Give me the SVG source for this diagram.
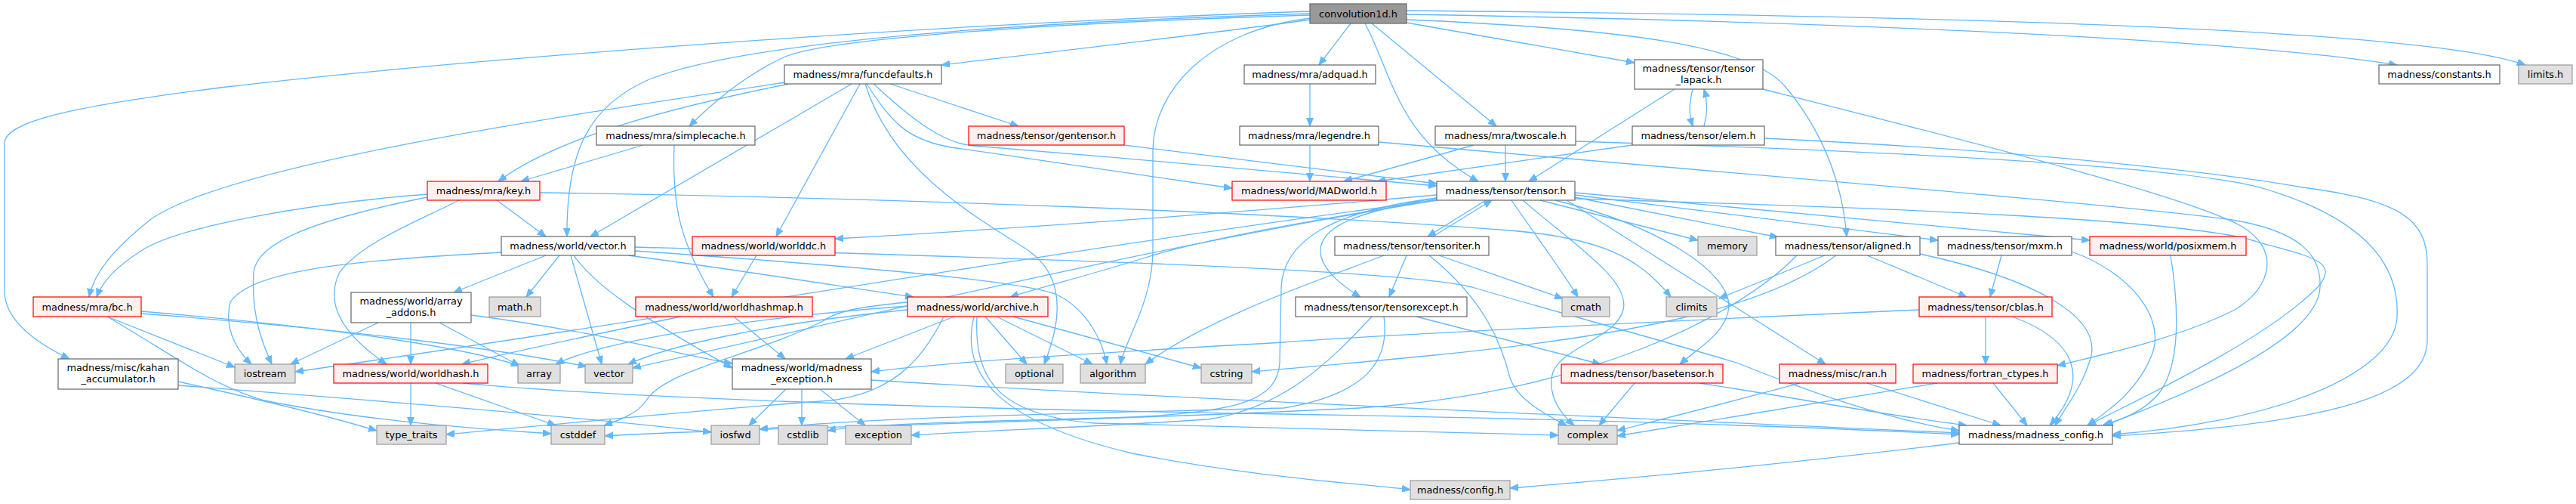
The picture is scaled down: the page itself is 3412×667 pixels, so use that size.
<svg xmlns="http://www.w3.org/2000/svg" width="3412" height="667" viewBox="0 0 3412 667">
<style>
.e{fill:none;stroke:#63B8FF;stroke-width:1.3}
.n rect{stroke-width:1.2}
.w rect{fill:#fff;stroke:#666}
.r rect{fill:#FFF0F0;stroke:#F00}
.g rect{fill:#E0E0E0;stroke:#999}
.root rect{fill:#999;stroke:#666}
text{font-family:"DejaVu Sans",sans-serif;font-size:12.9px;text-anchor:middle;fill:#000}
</style>
<defs>
<marker id="ah" markerUnits="userSpaceOnUse" markerWidth="13" markerHeight="11" refX="11" refY="4.5" orient="auto"><path d="M0,0L11,4.5L0,9z" fill="#63B8FF" stroke="#63B8FF" stroke-width="1"/></marker>
</defs>
<rect width="3412" height="667" fill="#fff"/>
<g id="edges" class="e" marker-end="url(#ah)">
<path d="M1736,26 C1600,45 1400,68 1247,86"/>
<path d="M1789,31 L1747,86"/>
<path d="M1808,31 C1845,100 1850,180 1958,240"/>
<path d="M1817,31 L1982,167"/>
<path d="M1863,30 L2165,83"/>
<path d="M1863,19 C2400,28 2950,50 3175,86"/>
<path d="M1863,14 C2500,20 3200,35 3345,86"/>
<path d="M1863,26 C2150,38 2320,60 2365,115 C2415,175 2440,240 2446,313"/>
<path d="M1736,24 C1600,40 1527,120 1527,200 L1527,330 C1527,400 1490,450 1484,482"/>
<path d="M1736,20 C1400,30 1100,50 1040,75 C985,100 940,140 913,167"/>
<path d="M1736,18 C1400,28 1000,50 860,105 C780,140 750,200 751,313"/>
<path d="M1736,15 C1200,33 600,80 300,115 C100,140 6,160 6,190 L6,385 C6,420 40,450 92,475"/>
<path d="M1040,109 C700,160 300,220 200,290 C150,330 125,360 118,393"/>
<path d="M1045,111 C900,140 740,180 660,240"/>
<path d="M1128,111 L782,313"/>
<path d="M1139,111 L1028,313"/>
<path d="M1179,111 L1349,167"/>
<path d="M1157,111 C1210,160 1250,190 1290,193 C1500,210 1750,232 1903,246"/>
<path d="M1148,111 C1180,160 1200,185 1260,195 C1400,215 1550,238 1632,249"/>
<path d="M1146,111 C1180,220 1280,280 1360,330 C1420,370 1400,440 1383,482"/>
<path d="M852,192 L690,240"/>
<path d="M893,192 C890,270 900,320 945,393"/>
<path d="M1735,111 L1735,167"/>
<path d="M1735,192 L1735,240"/>
<path d="M1826,188 C2300,230 2800,270 2950,290 C3050,305 3075,340 3073,380 C3070,450 2900,520 2788,563"/>
<path d="M1952,192 L1780,240"/>
<path d="M1994,192 L1994,240"/>
<path d="M2087,187 C2500,200 2900,220 3000,250 C3100,280 3180,330 3175,420 C3170,500 3000,560 2798,575"/>
<path d="M2218,118 L2025,240"/>
<path d="M2242,118 C2237,138 2237,150 2242,167"/>
<path d="M2335,118 C2600,185 2900,260 2970,300 C3020,330 3010,380 2960,410 C2880,450 2780,470 2725,484"/>
<path d="M2257,167 C2262,150 2262,135 2257,118"/>
<path d="M2162,192 L1824,240"/>
<path d="M2337,183 C2700,200 2950,230 3050,248 C3180,265 3215,290 3215,350 L3215,450 C3215,520 3100,560 2798,577"/>
<path d="M1489,192 L1903,243"/>
<path d="M658,265 L723,313"/>
<path d="M566,257 C400,270 240,300 190,330 C150,355 135,375 128,393"/>
<path d="M608,265 C560,290 480,320 450,360 C430,400 450,440 512,482"/>
<path d="M566,261 C420,290 340,320 336,360 C332,420 350,460 360,482"/>
<path d="M715,255 C1200,262 1700,282 2000,305 C2120,315 2170,340 2213,393"/>
<path d="M723,338 L601,387"/>
<path d="M741,338 L697,393"/>
<path d="M756,338 L797,482"/>
<path d="M760,338 C790,380 850,420 970,487"/>
<path d="M832,338 C1000,360 1150,385 1210,393"/>
<path d="M841,332 C1100,350 1350,370 1400,390 C1440,410 1460,450 1466,482"/>
<path d="M841,327 C1300,340 1850,355 1950,380 C2050,410 2200,450 2300,480 C2400,520 2500,555 2595,570"/>
<path d="M664,334 C450,345 330,360 305,400 C295,440 320,470 333,482"/>
<path d="M1002,338 L969,393"/>
<path d="M972,419 L1040,475"/>
<path d="M902,419 C800,440 680,465 612,482"/>
<path d="M1903,258 C1600,285 1300,305 1106,316"/>
<path d="M1968,265 L1891,313"/>
<path d="M1898,313 L1976,265"/>
<path d="M1903,262 C1800,280 1740,300 1750,340 C1755,360 1780,380 1802,393"/>
<path d="M1903,264 C1750,290 1600,315 1520,340 C1450,362 1380,380 1338,393"/>
<path d="M2040,265 L2249,318"/>
<path d="M2086,261 L2355,314"/>
<path d="M2086,258 L2567,318"/>
<path d="M2086,255 L2768,318"/>
<path d="M2002,265 C2040,320 2070,360 2090,393"/>
<path d="M2017,265 C2080,320 2160,370 2150,410 C2140,450 2060,460 2055,500 C2052,530 2070,550 2085,563"/>
<path d="M2060,265 C2200,300 2290,360 2290,405 C2288,440 2250,460 2225,482"/>
<path d="M2075,265 L2418,482"/>
<path d="M2086,263 C2500,275 2900,290 2990,320 C3060,340 3100,345 3070,380 C3000,450 2850,520 2765,563"/>
<path d="M1903,265 C1400,330 900,420 391,492"/>
<path d="M1903,265 C1500,330 1100,430 838,487"/>
<path d="M1903,262 C1760,280 1700,320 1697,380 L1695,480 C1692,530 1640,545 1500,552 C1300,558 1150,560 1096,570"/>
<path d="M1863,338 L1840,393"/>
<path d="M1906,338 L2070,395"/>
<path d="M1893,338 C1970,400 1990,460 2000,500 C2010,530 2050,550 2075,563"/>
<path d="M1833,338 C1750,370 1600,420 1517,482"/>
<path d="M1876,419 L2120,482"/>
<path d="M1817,419 C1760,480 1700,540 1600,555 C1450,565 1300,570 1207,576"/>
<path d="M1833,419 C1840,470 1820,520 1700,540 C1400,548 1150,552 1006,568"/>
<path d="M2165,507 L2118,563"/>
<path d="M2251,507 C2400,530 2500,550 2605,563"/>
<path d="M2384,507 C2300,530 2200,555 2142,570"/>
<path d="M2473,507 L2650,563"/>
<path d="M2566,507 C2400,535 2250,560 2142,577"/>
<path d="M2640,507 L2685,563"/>
<path d="M2630,419 L2630,482"/>
<path d="M2665,419 C2750,450 2770,500 2715,563"/>
<path d="M2542,410 C2200,425 1800,445 1700,453 C1400,470 1250,480 1154,492"/>
<path d="M2417,338 L2277,395"/>
<path d="M2432,338 C2350,400 2200,440 1900,470 C1780,482 1700,488 1658,492"/>
<path d="M2473,338 L2605,393"/>
<path d="M2543,336 C2700,370 2780,420 2770,470 C2760,510 2735,540 2722,563"/>
<path d="M2380,338 C2300,420 2100,520 1800,540 C1400,560 1000,565 801,577"/>
<path d="M2651,338 L2636,393"/>
<path d="M2744,333 C2820,360 2870,420 2850,470 C2830,520 2790,545 2765,563"/>
<path d="M2875,338 C2885,400 2890,480 2860,520 C2840,545 2810,555 2785,563"/>
<path d="M1264,419 L1120,475"/>
<path d="M1305,419 L1360,482"/>
<path d="M1320,419 L1447,482"/>
<path d="M1342,419 L1591,487"/>
<path d="M1290,419 C1270,500 1330,560 1500,600 C1650,630 1800,640 1868,648"/>
<path d="M1294,419 C1290,500 1320,550 1450,560 C1700,568 1900,573 2064,576"/>
<path d="M1250,419 C1220,480 1180,520 1100,530 C900,545 700,565 591,575"/>
<path d="M1202,405 C1000,420 800,450 736,482"/>
<path d="M1202,410 C1000,430 880,460 832,482"/>
<path d="M1202,400 C1150,405 1110,410 1090,425 C1000,470 880,490 856,530 C845,548 815,558 800,563"/>
<path d="M1041,515 L992,563"/>
<path d="M1062,515 L1062,563"/>
<path d="M1086,515 L1146,563"/>
<path d="M1154,503 C1600,530 2200,555 2595,573"/>
<path d="M142,419 L311,486"/>
<path d="M142,419 C230,470 280,510 350,530 C500,560 650,568 730,574"/>
<path d="M187,412 C400,430 600,455 688,484"/>
<path d="M187,415 C450,435 650,460 777,485"/>
<path d="M582,427 L688,484"/>
<path d="M501,427 L385,482"/>
<path d="M544,427 L544,482"/>
<path d="M624,417 C800,440 900,470 970,481"/>
<path d="M544,507 L544,563"/>
<path d="M577,507 L736,563"/>
<path d="M613,507 C800,525 1200,540 1700,548 C2100,555 2400,565 2595,575"/>
<path d="M236,505 C350,530 450,555 499,570"/>
<path d="M236,510 C500,530 800,555 942,572"/>
<path d="M2595,586 C2400,610 2200,630 2000,646"/>
</g>
<g id="n-root" class="n root"><rect x="1735" y="5" width="128" height="26"/><text x="1799" y="22.5">convolution1d.h</text></g>
<g id="n-funcdefaults" class="n w"><rect x="1039" y="86" width="208" height="25"/><text x="1143" y="103">madness/mra/funcdefaults.h</text></g>
<g id="n-adquad" class="n w"><rect x="1648" y="86" width="174" height="25"/><text x="1735" y="103">madness/mra/adquad.h</text></g>
<g id="n-tensor_lapack" class="n w"><rect x="2165" y="79" width="170" height="39"/><text x="2250" y="95">madness/tensor/tensor</text><text x="2250" y="110">_lapack.h</text></g>
<g id="n-constants" class="n w"><rect x="3151" y="86" width="160" height="25"/><text x="3231" y="103">madness/constants.h</text></g>
<g id="n-limits" class="n g"><rect x="3336" y="86" width="71" height="25"/><text x="3371.5" y="103">limits.h</text></g>
<g id="n-simplecache" class="n w"><rect x="790" y="167" width="210" height="25"/><text x="895" y="184">madness/mra/simplecache.h</text></g>
<g id="n-gentensor" class="n r"><rect x="1283" y="167" width="206" height="25"/><text x="1386" y="184">madness/tensor/gentensor.h</text></g>
<g id="n-legendre" class="n w"><rect x="1642" y="167" width="184" height="25"/><text x="1734" y="184">madness/mra/legendre.h</text></g>
<g id="n-twoscale" class="n w"><rect x="1901" y="167" width="186" height="25"/><text x="1994" y="184">madness/mra/twoscale.h</text></g>
<g id="n-elem" class="n w"><rect x="2162" y="167" width="175" height="25"/><text x="2249.5" y="184">madness/tensor/elem.h</text></g>
<g id="n-key" class="n r"><rect x="566" y="240" width="149" height="25"/><text x="640.5" y="257">madness/mra/key.h</text></g>
<g id="n-MADworld" class="n r"><rect x="1632" y="240" width="204" height="25"/><text x="1734" y="257">madness/world/MADworld.h</text></g>
<g id="n-tensor" class="n w"><rect x="1903" y="240" width="183" height="25"/><text x="1994.5" y="257">madness/tensor/tensor.h</text></g>
<g id="n-vector_h" class="n w"><rect x="664" y="313" width="177" height="25"/><text x="752.5" y="330">madness/world/vector.h</text></g>
<g id="n-worlddc" class="n r"><rect x="917" y="313" width="189" height="25"/><text x="1011.5" y="330">madness/world/worlddc.h</text></g>
<g id="n-tensoriter" class="n w"><rect x="1768" y="313" width="204" height="25"/><text x="1870" y="330">madness/tensor/tensoriter.h</text></g>
<g id="n-memory" class="n g"><rect x="2249" y="313" width="78" height="25"/><text x="2288" y="330">memory</text></g>
<g id="n-aligned" class="n w"><rect x="2352" y="313" width="191" height="25"/><text x="2447.5" y="330">madness/tensor/aligned.h</text></g>
<g id="n-mxm" class="n w"><rect x="2567" y="313" width="177" height="25"/><text x="2655.5" y="330">madness/tensor/mxm.h</text></g>
<g id="n-posixmem" class="n r"><rect x="2768" y="313" width="207" height="25"/><text x="2871.5" y="330">madness/world/posixmem.h</text></g>
<g id="n-bc" class="n r"><rect x="44" y="393" width="143" height="26"/><text x="115.5" y="411">madness/mra/bc.h</text></g>
<g id="n-array_addons" class="n w"><rect x="465" y="387" width="159" height="40"/><text x="544.5" y="403">madness/world/array</text><text x="544.5" y="418">_addons.h</text></g>
<g id="n-math" class="n g"><rect x="648" y="393" width="68" height="26"/><text x="682" y="411">math.h</text></g>
<g id="n-worldhashmap" class="n r"><rect x="842" y="393" width="234" height="26"/><text x="959" y="411">madness/world/worldhashmap.h</text></g>
<g id="n-archive" class="n r"><rect x="1202" y="393" width="186" height="26"/><text x="1295" y="411">madness/world/archive.h</text></g>
<g id="n-tensorexcept" class="n w"><rect x="1716" y="393" width="227" height="26"/><text x="1829.5" y="411">madness/tensor/tensorexcept.h</text></g>
<g id="n-cmath" class="n g"><rect x="2069" y="393" width="63" height="26"/><text x="2100.5" y="411">cmath</text></g>
<g id="n-climits" class="n g"><rect x="2207" y="393" width="67" height="26"/><text x="2240.5" y="411">climits</text></g>
<g id="n-cblas" class="n r"><rect x="2542" y="393" width="176" height="26"/><text x="2630" y="411">madness/tensor/cblas.h</text></g>
<g id="n-kahan" class="n w"><rect x="77" y="475" width="159" height="40"/><text x="156.5" y="491">madness/misc/kahan</text><text x="156.5" y="506">_accumulator.h</text></g>
<g id="n-iostream" class="n g"><rect x="311" y="482" width="80" height="25"/><text x="351" y="499">iostream</text></g>
<g id="n-worldhash" class="n r"><rect x="442" y="482" width="204" height="25"/><text x="544" y="499">madness/world/worldhash.h</text></g>
<g id="n-array" class="n g"><rect x="686" y="482" width="56" height="25"/><text x="714" y="499">array</text></g>
<g id="n-vector" class="n g"><rect x="775" y="482" width="63" height="25"/><text x="806.5" y="499">vector</text></g>
<g id="n-madness_exception" class="n w"><rect x="970" y="475" width="184" height="40"/><text x="1062" y="491">madness/world/madness</text><text x="1062" y="506">_exception.h</text></g>
<g id="n-optional" class="n g"><rect x="1332" y="482" width="76" height="25"/><text x="1370" y="499">optional</text></g>
<g id="n-algorithm" class="n g"><rect x="1431" y="482" width="86" height="25"/><text x="1474" y="499">algorithm</text></g>
<g id="n-cstring" class="n g"><rect x="1591" y="482" width="67" height="25"/><text x="1624.5" y="499">cstring</text></g>
<g id="n-basetensor" class="n r"><rect x="2068" y="482" width="214" height="25"/><text x="2175" y="499">madness/tensor/basetensor.h</text></g>
<g id="n-ran" class="n r"><rect x="2357" y="482" width="154" height="25"/><text x="2434" y="499">madness/misc/ran.h</text></g>
<g id="n-fortran_ctypes" class="n r"><rect x="2534" y="482" width="191" height="25"/><text x="2629.5" y="499">madness/fortran_ctypes.h</text></g>
<g id="n-type_traits" class="n g"><rect x="499" y="563" width="92" height="25"/><text x="545" y="580">type_traits</text></g>
<g id="n-cstddef" class="n g"><rect x="730" y="563" width="71" height="25"/><text x="765.5" y="580">cstddef</text></g>
<g id="n-iosfwd" class="n g"><rect x="942" y="563" width="64" height="25"/><text x="974" y="580">iosfwd</text></g>
<g id="n-cstdlib" class="n g"><rect x="1031" y="563" width="65" height="25"/><text x="1063.5" y="580">cstdlib</text></g>
<g id="n-exception" class="n g"><rect x="1120" y="563" width="87" height="25"/><text x="1163.5" y="580">exception</text></g>
<g id="n-complex" class="n g"><rect x="2064" y="563" width="78" height="25"/><text x="2103" y="580">complex</text></g>
<g id="n-madness_config" class="n w"><rect x="2595" y="563" width="203" height="25"/><text x="2696.5" y="580">madness/madness_config.h</text></g>
<g id="n-config" class="n g"><rect x="1868" y="636" width="132" height="25"/><text x="1934" y="653">madness/config.h</text></g>
</svg>
